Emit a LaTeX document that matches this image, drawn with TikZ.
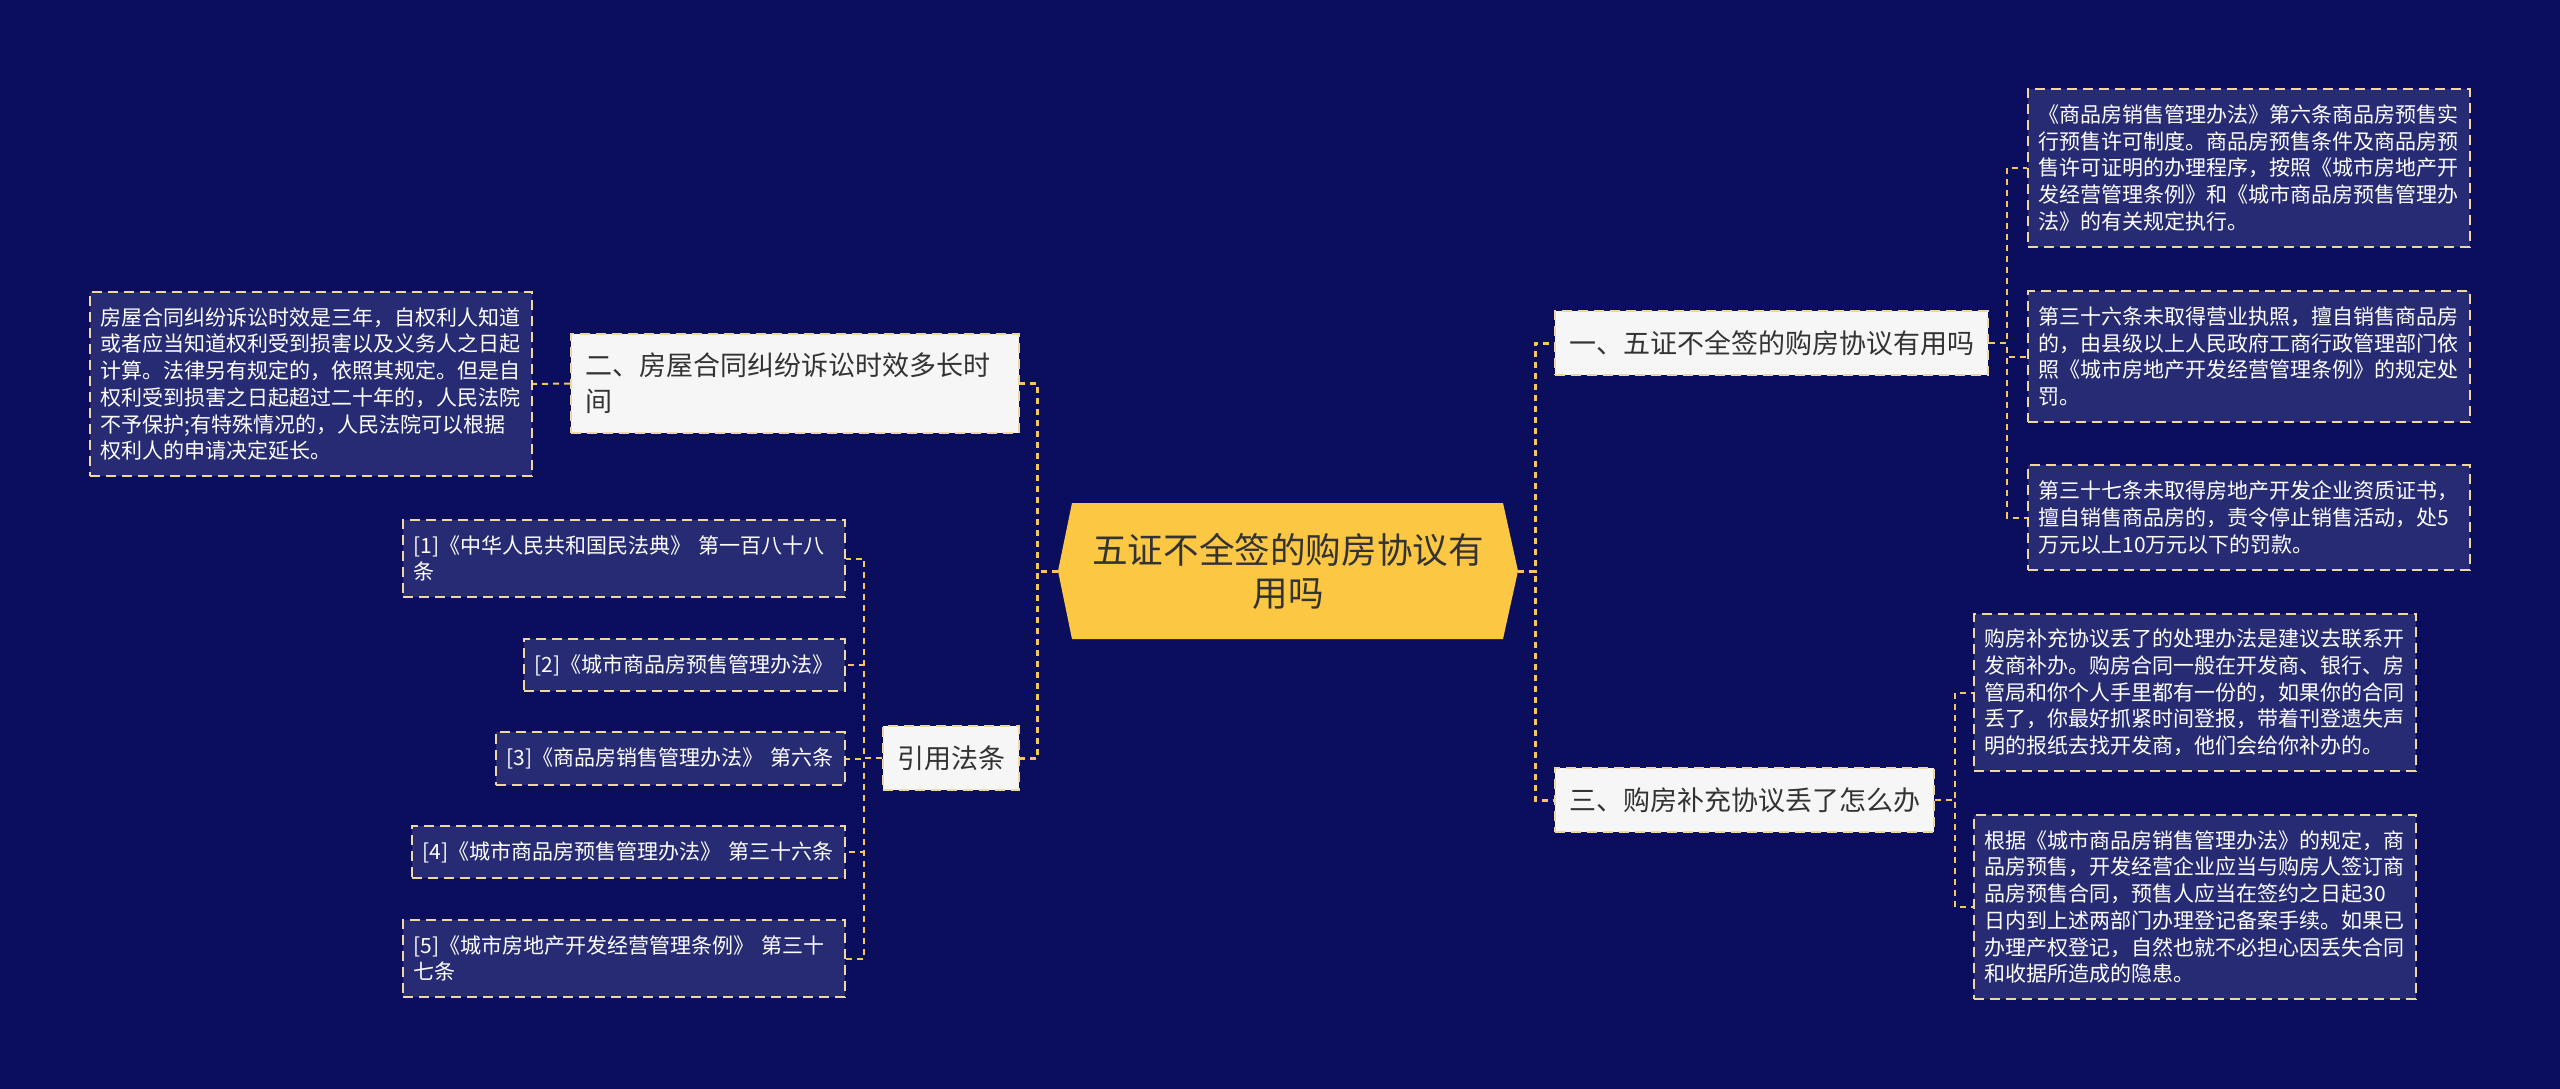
\documentclass[tikz,border=0pt]{standalone}
\usepackage{fontspec}
\setmainfont{Noto Sans CJK SC}
\usetikzlibrary{positioning}

\definecolor{navybg}{HTML}{0B0E5C}
\definecolor{leaffill}{HTML}{272B73}
\definecolor{gold}{HTML}{FCC844}
\definecolor{linegold}{HTML}{F3C75A}
\definecolor{dashcream}{HTML}{EED8A0}
\definecolor{paper}{HTML}{F6F6F6}
\definecolor{ink}{HTML}{333333}

\begin{document}
\begin{tikzpicture}[
        x=1pt, y=-1pt,
        topic/.style={
            rectangle,
            minimum width=460pt,
            minimum height=136pt,
            align=center,
            text=ink,
            font=\fontsize{35.6}{43}\selectfont
        },
        branch/.style={
            rectangle,
            fill=paper,
            draw=dashcream,
            line width=2pt,
            dash pattern=on 10pt off 6pt,
            inner xsep=14pt,
            inner ysep=19pt,
            align=left,
            text=ink,
            font=\fontsize{27}{36}\selectfont
        },
        leaf/.style={
            rectangle,
            fill=leaffill,
            draw=dashcream,
            line width=2pt,
            dash pattern=on 10pt off 6pt,
            inner xsep=10.5pt,
            inner ysep=15.5pt,
            text width=421pt,
            align=left,
            text=white,
            font=\fontsize{21}{26.7}\selectfont
        },
        link/.style={
            draw=linegold,
            line width=3pt,
            dash pattern=on 6pt off 5pt
        },
        twig/.style={
            draw=linegold,
            line width=2pt,
            dash pattern=on 6pt off 5pt
        }
    ]

        \fill[navybg] (0,0) rectangle (2560,1089);
        \useasboundingbox (0,0) rectangle (2560,1089);

        % centre topic
        \fill[gold] (1058,571) -- (1072,503) -- (1503,503) -- (1518,571)
            -- (1503,639) -- (1072,639) -- cycle;
        \node[topic] (root) at (1288,571) {五证不全签的购房协议有\\用吗};

        % main branches
        \node[branch, anchor=west] (sign) at (1554,343) {一、五证不全签的购房协议有用吗};
        \node[branch, anchor=east, text width=420pt] (term) at (1020,383.5)
            {二、房屋合同纠纷诉讼时效多长时\\间};
        \node[branch, anchor=west] (lost) at (1554,800) {三、购房补充协议丢了怎么办};
        \node[branch, anchor=east] (laws) at (1020,758) {引用法条};

        % leaves of branch one
        \node[leaf, anchor=west] (signa) at (2027,168)
            {《商品房销售管理办法》第六条商品房预售实\\
             行预售许可制度。商品房预售条件及商品房预\\
             售许可证明的办理程序，按照《城市房地产开\\
             发经营管理条例》和《城市商品房预售管理办\\
             法》的有关规定执行。};
        \node[leaf, anchor=west] (signb) at (2027,356.5)
            {第三十六条未取得营业执照，擅自销售商品房\\
             的，由县级以上人民政府工商行政管理部门依\\
             照《城市房地产开发经营管理条例》的规定处\\
             罚。};
        \node[leaf, anchor=west] (signc) at (2027,517.5)
            {第三十七条未取得房地产开发企业资质证书，\\
             擅自销售商品房的，责令停止销售活动，处5\\
             万元以上10万元以下的罚款。};

        % leaf of branch two
        \node[leaf, anchor=east] (terma) at (533,384)
            {房屋合同纠纷诉讼时效是三年，自权利人知道\\
             或者应当知道权利受到损害以及义务人之日起\\
             计算。法律另有规定的，依照其规定。但是自\\
             权利受到损害之日起超过二十年的，人民法院\\
             不予保护;有特殊情况的，人民法院可以根据\\
             权利人的申请决定延长。};

        % leaves of branch three
        \node[leaf, anchor=west] (lostd) at (1973,692.5)
            {购房补充协议丢了的处理办法是建议去联系开\\
             发商补办。购房合同一般在开发商、银行、房\\
             管局和你个人手里都有一份的，如果你的合同\\
             丢了，你最好抓紧时间登报，带着刊登遗失声\\
             明的报纸去找开发商，他们会给你补办的。};
        \node[leaf, anchor=west] (loste) at (1973,907)
            {根据《城市商品房销售管理办法》的规定，商\\
             品房预售，开发经营企业应当与购房人签订商\\
             品房预售合同，预售人应当在签约之日起30\\
             日内到上述两部门办理登记备案手续。如果已\\
             办理产权登记，自然也就不必担心因丢失合同\\
             和收据所造成的隐患。};

        % cited laws
        \node[leaf, anchor=east] (ref1) at (846,558.5)
            {[1]《中华人民共和国民法典》 第一百八十八\\条};
        \node[leaf, anchor=east, text width=300pt] (ref2) at (846,665)
            {[2]《城市商品房预售管理办法》};
        \node[leaf, anchor=east, text width=328pt] (ref3) at (846,758.5)
            {[3]《商品房销售管理办法》 第六条};
        \node[leaf, anchor=east, text width=412pt] (ref4) at (846,852)
            {[4]《城市商品房预售管理办法》 第三十六条};
        \node[leaf, anchor=east] (ref5) at (846,958.5)
            {[5]《城市房地产开发经营管理条例》 第三十\\七条};

        \draw[link] (root.west) -- ++(-20,0) |- (term.east);
        \draw[link] (root.west) -- ++(-20,0) |- (laws.east);
        \draw[link] (root.east) -- ++(17,0) |- (sign.west);
        \draw[link] (root.east) -- ++(17,0) |- (lost.west);

        \draw[twig] (term.west) -- (terma.east);
        \foreach \kid in {signa,signb,signc}
            \draw[twig] (sign.east) -- ++(18,0) |- (\kid.west);
        \foreach \kid in {lostd,loste}
            \draw[twig] (lost.east) -- ++(20,0) |- (\kid.west);
        \foreach \kid in {ref1,ref2,ref3,ref4,ref5}
            \draw[twig] (laws.west) -- ++(-18,0) |- (\kid.east);

    \end{tikzpicture}
\end{document}
